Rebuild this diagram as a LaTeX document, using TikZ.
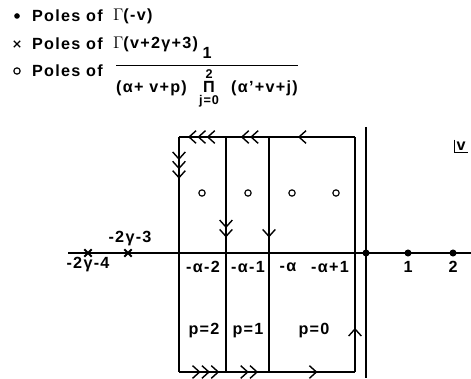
\documentclass[tikz,border=0pt]{standalone}
\usepackage{amsmath}
\usepackage{fontspec}
\setmainfont{Liberation Sans}[LetterSpace=8]
\usetikzlibrary{arrows.meta,decorations.markings,shapes.misc}

\tikzset{chev/.tip={Straight Barb[length=5pt,width=9pt,sep=0.4pt]}}
\tikzset{
  mk1/.style={postaction={decorate,decoration={markings,mark=at position #1 with {\arrow{chev[]}}}}},
  mk2/.style={postaction={decorate,decoration={markings,mark=at position #1 with {\arrow{chev[]chev[]}}}}},
  mk3/.style={postaction={decorate,decoration={markings,mark=at position #1 with {\arrow{chev[]chev[]chev[]}}}}}
}

\begin{document}
\begin{tikzpicture}[x=0.025cm,y=-0.025cm,font=\bfseries\fontsize{11.5}{13}\selectfont,line width=1pt]
\tikzstyle{pole}=[circle,fill,inner sep=0pt,minimum size=5pt]
\tikzstyle{xpole}=[cross out,draw,line width=1.3pt,inner sep=0pt,minimum size=4pt]
\tikzstyle{opole}=[circle,draw,line width=0.8pt,inner sep=0pt,minimum size=4.5pt]
\tikzstyle{lab}=[inner sep=1pt]
\useasboundingbox (0,0) rectangle (471,379);

% legend
\node[pole,minimum size=4pt] (kdot) at (17,16) {};
\node[lab,anchor=west] (kdott) at (30,16) {Poles of};
\node[lab,anchor=west] at (111,16) {$\Gamma$(-v)};
\node[xpole,line width=1pt,minimum size=3.5pt] (kx) at (17,44) {};
\node[lab,anchor=west] (kxt) at (30,44) {Poles of};
\node[lab,anchor=west] at (111,44) {$\Gamma$(v+2γ+3)};
\node[opole] (ko) at (17,71) {};
\node[lab,anchor=west] (kot) at (30,71) {Poles of};
\node[lab] (frac) at (207,78) {$\dfrac{\text{1}}{\text{(α+ v+p)}\;\;\mathop{\text{Π}}\limits^{\mbox{\small 2}}_{\mbox{\small j=0}}\;\;\text{(α'+v+j)}}$};

% axes
\coordinate (xl) at (68,253);
\coordinate (xr) at (471,253);
\coordinate (yt) at (366,127);
\coordinate (yb) at (366,378);
\draw[line width=1.2pt] (xl) -- (xr);
\draw[line width=1.2pt] (yt) -- (yb);
\node[lab] (vv) at (461,146) {v};
\draw (vv.north west) -- (vv.south west) -- (vv.south east);

% contour
\coordinate (tl) at (179,137);
\coordinate (t2) at (226,137);
\coordinate (t1) at (269,137);
\coordinate (tr) at (355,137);
\coordinate (bl) at (179,372);
\coordinate (b2) at (226,372);
\coordinate (b1) at (269,372);
\coordinate (br) at (355,372);
\draw[mk1=0.67] (tr) -- (t1);
\draw[mk2=0.67] (t1) -- (t2);
\draw[mk3=0.82] (t2) -- (tl);
\draw[mk3=0.18] (tl) -- (bl);
\draw[mk3=0.87] (bl) -- (b2);
\draw[mk2=0.76] (b2) -- (b1);
\draw[mk1=0.57] (b1) -- (br);
\draw[mk1=0.19] (br) -- (tr);
\draw[mk2=0.43] (t2) -- (b2);
\draw[mk1=0.43] (t1) -- (b1);

% poles
\node[pole] (z0) at (366,253) {};
\node[pole] (z1) at (408,253) {};
\node[pole] (z2) at (453,253) {};
\node[xpole] (g3) at (128,253) {};
\node[xpole] (g4) at (88,253) {};
\node[opole] (c2) at (202,193) {};
\node[opole] (c1) at (248,193) {};
\node[opole] (c0) at (292,193) {};
\node[opole] (cm) at (336,193) {};

% labels
\node[lab] at (130,239) {-2γ-3};
\node[lab] at (88,265) {-2γ-4};
\node[lab] at (203,267) {-α-2};
\node[lab] at (248,267) {-α-1};
\node[lab] at (288,267) {-α};
\node[lab] at (330,267) {-α+1};
\node[lab] at (408,267) {1};
\node[lab] at (453,267) {2};
\node[lab] at (204,331) {p=2};
\node[lab] at (248,331) {p=1};
\node[lab] at (314,331) {p=0};
\end{tikzpicture}
\end{document}
